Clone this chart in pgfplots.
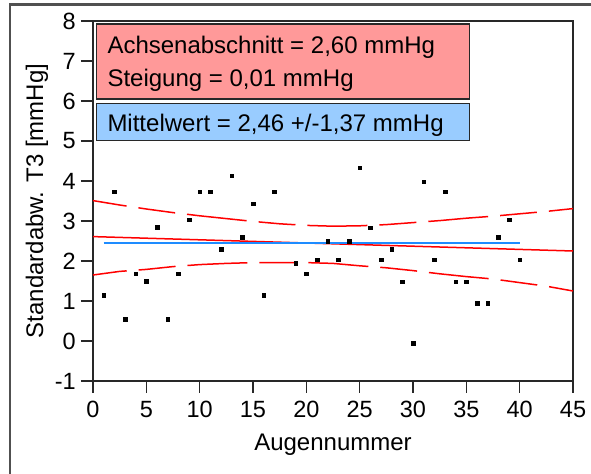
\documentclass[border=0pt]{standalone}
\usepackage{pgfplots}
\pgfplotsset{compat=1.18}
\usepackage{fontspec}
\setmainfont{Liberation Sans}

\definecolor{boxred}{RGB}{255,153,153}
\definecolor{boxblue}{RGB}{153,204,255}
\definecolor{meanblue}{RGB}{30,140,255}
\definecolor{framegray}{RGB}{80,80,80}
\definecolor{axisgray}{RGB}{40,40,40}

\begin{document}
\begin{tikzpicture}
\useasboundingbox (0,0) rectangle (591bp,474bp);
\clip (0,0) rectangle (591bp,474bp);
% outer frame of the graph window
\draw[framegray, line width=2.6bp] (10bp,-20bp) |- (640bp,469.3bp);

\begin{axis}[
  at={(93bp,93bp)}, anchor=south west,
  scale only axis, width=480bp, height=360bp,
  xmin=0, xmax=45, ymin=-1, ymax=8,
  xtick={0,5,...,45}, ytick={-1,0,...,8},
  tick pos=left, tick align=outside,
  major tick length=12bp,
  tick style={axisgray, line width=1.4bp},
  axis line style={axisgray, line width=1.8bp},
  /pgf/number format/assume math mode=true,
  ticklabel style={font=\fontsize{23.5bp}{23.5bp}\selectfont, inner sep=0pt},
  xticklabel style={anchor=north, yshift=-8bp},
  yticklabel style={anchor=east, xshift=-5bp},
  label style={font=\fontsize{24bp}{24bp}\selectfont},
  xlabel={Augennummer},
  xlabel style={at={(axis description cs:0.5,-0.194)}, anchor=base, inner sep=0pt},
  ylabel={Standardabw. T3 [mmHg]},
  ylabel style={at={(axis description cs:-0.1167,0.5)}, anchor=center, inner sep=0pt},
  clip=false,
]
% measured values
\addplot[only marks, mark=square*, mark size=1.8bp, black] coordinates {
  (1,1.14) (2,3.73) (3,0.54) (4,1.68) (5,1.49) (6,2.84) (7,0.54) (8,1.68)
  (9,3.03) (10,3.73) (11,3.73) (12,2.29) (13,4.13) (14,2.59) (15,3.43)
  (16,1.14) (17,3.73) (19,1.94) (20,1.68) (21,2.03) (22,2.50) (23,2.03)
  (24,2.50) (25,4.33) (26,2.83) (27,2.03) (28,2.29) (29,1.48) (30,-0.06)
  (31,3.98) (32,2.03) (33,3.73) (34,1.48) (35,1.48) (36,0.94) (37,0.94)
  (38,2.59) (39,3.03) (40,2.03)
};
% confidence band of the regression
\addplot[red, line width=1.5bp, dash pattern=on 60bp off 12bp on 37bp off 12bp, dash phase=26bp] coordinates {
  (0,3.51) (2.5,3.40) (5,3.30) (7.5,3.21) (10,3.13) (12.5,3.06) (15,2.99)
  (17.5,2.93) (20,2.89) (22.5,2.87) (25,2.88) (27.5,2.91) (30,2.96)
  (32.5,3.01) (35,3.07) (37.5,3.12) (40,3.18) (42.5,3.24) (45,3.31)
};
\addplot[red, line width=1.5bp, dash pattern=on 60bp off 12bp on 37bp off 12bp, dash phase=26bp] coordinates {
  (0,1.65) (2.5,1.74) (5,1.79) (7.5,1.86) (10,1.91) (12.5,1.94) (15,1.96)
  (17.5,1.96) (20,1.96) (22.5,1.94) (25,1.88) (27.5,1.83) (30,1.76)
  (32.5,1.68) (35,1.61) (37.5,1.55) (40,1.46) (42.5,1.37) (45,1.25)
};
% regression line
\addplot[red, line width=1.5bp] coordinates {(0,2.61) (45,2.25)};
% mean value
\addplot[meanblue, line width=1.8bp] coordinates {(1,2.46) (40,2.46)};
\end{axis}

% annotation boxes
\draw[axisgray, line width=1.5bp, fill=boxred] (96.7bp,450bp) rectangle (469.3bp,375bp);
\draw[axisgray, line width=1.5bp, fill=boxblue] (96.7bp,370.7bp) rectangle (469.3bp,333.3bp);
\begin{scope}[every node/.style={anchor=base west, inner sep=0pt, font=\fontsize{24bp}{24bp}\selectfont}]
\node at (107.3bp,420.7bp) {Achsenabschnitt = 2,60 mmHg};
\node at (107.3bp,387.3bp) {Steigung = 0,01 mmHg};
\node at (107.3bp,342.3bp) {Mittelwert = 2,46 +/-1,37 mmHg};
\end{scope}
\end{tikzpicture}
\end{document}
